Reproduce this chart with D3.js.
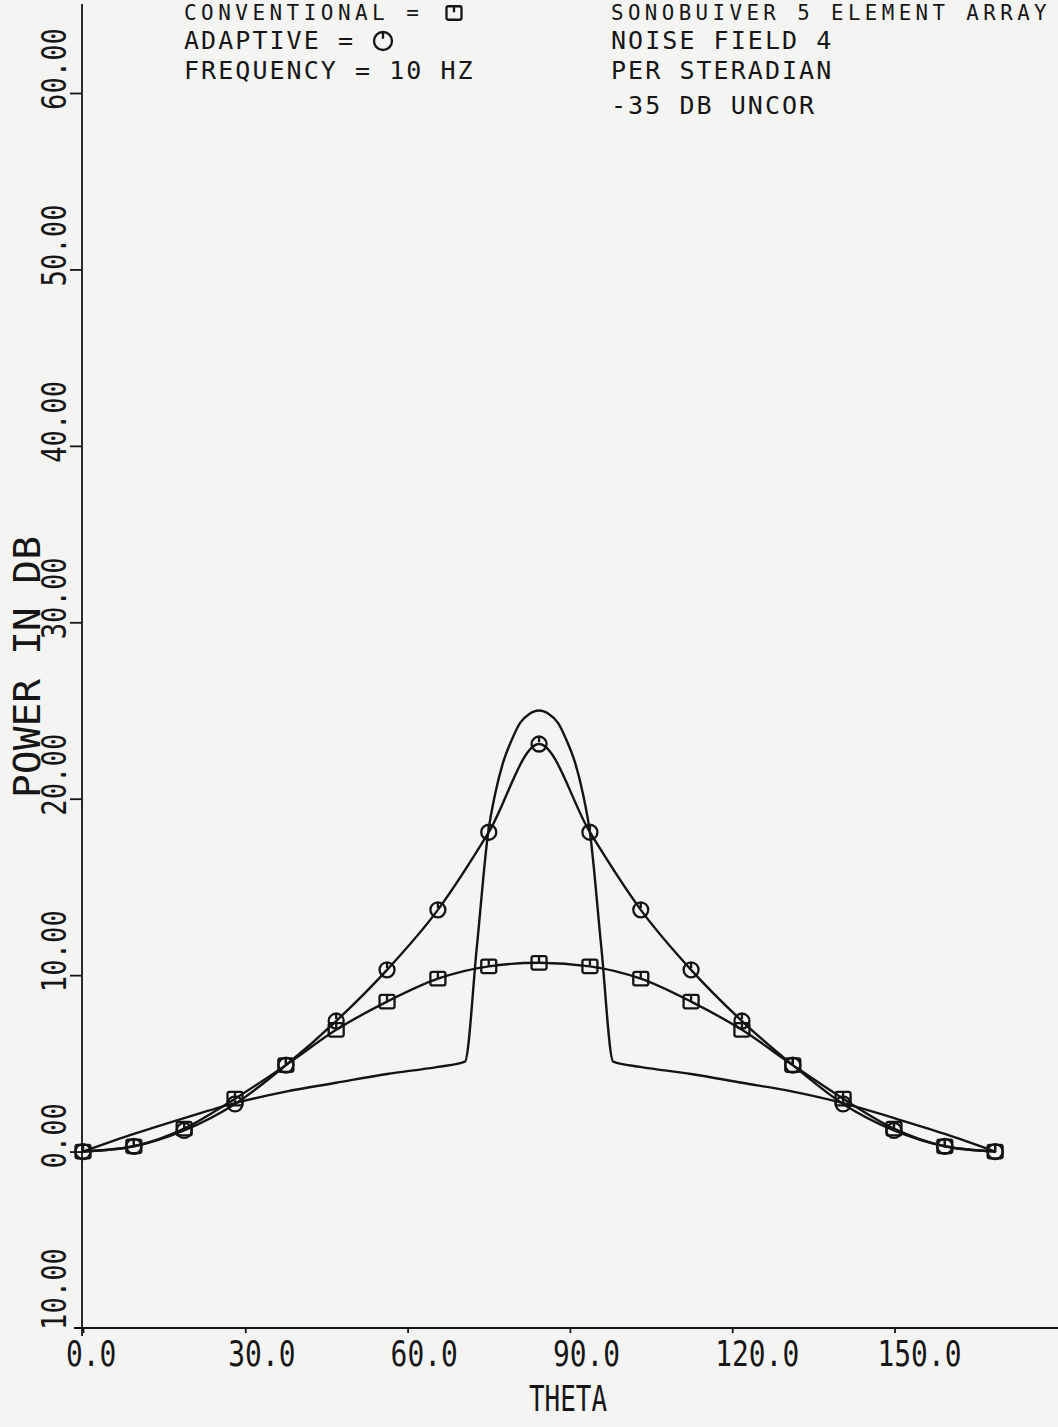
<!DOCTYPE html>
<html><head><meta charset="utf-8">
<script src="https://cdn.jsdelivr.net/npm/d3@7"></script>
<style>
html,body{margin:0;padding:0;background:#f4f4f2;}
svg{display:block}
text{font-family:"DejaVu Sans Mono",monospace;fill:#161616;}
</style></head><body>
<svg id="c" width="1058" height="1427"></svg>
<script>
// ---- data ----
const thetaPts = [0, 9.4, 18.7, 28.1, 37.5, 46.8, 56.2, 65.6, 75.0, 84.3, 93.7, 103.1, 112.4, 121.8, 131.2, 140.5, 149.9, 159.3, 168.6];
const conventional = [0, 0.3, 1.3, 3.0, 4.9, 6.9, 8.5, 9.8, 10.5, 10.7, 10.5, 9.8, 8.5, 6.9, 4.9, 3.0, 1.3, 0.3, 0];
const adaptive = [0, 0.3, 1.2, 2.7, 4.9, 7.4, 10.3, 13.7, 18.1, 23.1, 18.1, 13.7, 10.3, 7.4, 4.9, 2.7, 1.2, 0.3, 0];
const optimumTheta = [0, 9.4, 18.7, 28.1, 37.5, 46.8, 56.2, 65.6, 70.6, 72.8, 74.9, 76.2, 77.6, 79.2, 80.8, 82.5, 84.3, 86.1, 87.8, 89.4, 91.0, 92.4, 93.7, 95.8, 98.0, 103.0, 112.4, 121.8, 131.2, 140.5, 149.9, 159.3, 168.6];
const optimumValues = [0, 1.0, 1.9, 2.75, 3.4, 3.9, 4.4, 4.8, 5.1, 11.6, 18.1, 20.3, 22.0, 23.3, 24.3, 24.8, 25.0, 24.8, 24.3, 23.3, 22.0, 20.3, 18.1, 11.6, 5.1, 4.8, 4.4, 3.9, 3.4, 2.75, 1.9, 1.0, 0];
const xTicks = [0, 30, 60, 90, 120, 150];
const xTickLabels = ["0.0", "30.0", "60.0", "90.0", "120.0", "150.0"];
const yTicks = [-10, 0, 10, 20, 30, 40, 50, 60];
const yTickLabels = ["10.00", "0.00", "10.00", "20.00", "30.00", "40.00", "50.00", "60.00"];
const legendLeft = ["CONVENTIONAL = ", "ADAPTIVE = ", "FREQUENCY = 10 HZ"];
const legendRight = ["SONOBUIVER 5 ELEMENT ARRAY", "NOISE FIELD 4", "PER STERADIAN", "-35 DB UNCOR"];
const xTitle = "THETA";
const yTitle = "POWER IN DB";

// ---- drawing ----
const ink = "#141414";
const svg = d3.select("#c");
const x = d3.scaleLinear().domain([0, 180]).range([83, 1056.8]);
const y = d3.scaleLinear().domain([-10, 60]).range([1328, 93]);

// axes
const axX = svg.append("g").attr("transform", `translate(0,${y(-10)})`)
  .call(d3.axisBottom(x).tickValues(xTicks).tickSize(5).tickSizeOuter(0).tickFormat(""));
axX.select(".domain").attr("d", `M74,0H1058`);
const axY = svg.append("g").attr("transform", `translate(${x(0) - 1},0)`)
  .call(d3.axisLeft(y).tickValues(yTicks.filter(v => v > -10)).tickSize(12).tickSizeOuter(0).tickFormat(""));
axY.select(".domain").attr("d", `M0,4V1336`);
svg.selectAll(".domain, .tick line").attr("stroke", ink).attr("stroke-width", 1.8);

// tick labels
const charX = 16.8;
svg.append("g").selectAll("text").data(xTicks).join("text")
  .attr("x", d => x(d) - 17).attr("y", 1366)
  .attr("font-size", 35)
  .attr("textLength", (d, i) => xTickLabels[i].length * charX)
  .attr("lengthAdjust", "spacingAndGlyphs")
  .text((d, i) => xTickLabels[i]);

svg.append("g").selectAll("text").data(yTicks).join("text")
  .attr("transform", d => `translate(66,${y(d) + (d === -10 ? 2 : 17)}) rotate(-90)`)
  .attr("font-size", 33)
  .attr("textLength", (d, i) => yTickLabels[i].length * 16.4)
  .attr("lengthAdjust", "spacingAndGlyphs")
  .text((d, i) => yTickLabels[i]);

// axis titles
svg.append("text").attr("x", 568).attr("y", 1411).attr("text-anchor", "middle")
  .attr("font-size", 36).attr("textLength", 78).attr("lengthAdjust", "spacingAndGlyphs").text(xTitle);
svg.append("text").attr("transform", "translate(40,667) rotate(-90)").attr("text-anchor", "middle")
  .attr("font-size", 37).attr("textLength", 262).attr("lengthAdjust", "spacingAndGlyphs").text(yTitle);

// legend text (top line slightly smaller so it stays on the page)
const baseY = [20, 49, 79, 114];
const fs = [21, 25, 25, 25];
const legG = svg.append("g");
legG.selectAll("text.l").data(legendLeft).join("text").attr("class", "l")
  .attr("x", 184).attr("y", (d, i) => baseY[i])
  .attr("font-size", (d, i) => fs[i])
  .attr("letter-spacing", (d, i) => 17.1 - 0.602 * fs[i])
  .text(d => d);
legG.selectAll("text.r").data(legendRight).join("text").attr("class", "r")
  .attr("x", 611).attr("y", (d, i) => baseY[i])
  .attr("font-size", (d, i) => fs[i])
  .attr("letter-spacing", (d, i) => 17.1 - 0.602 * fs[i])
  .attr("textLength", (d, i) => i === 0 ? 440 : null)
  .attr("lengthAdjust", "spacingAndGlyphs")
  .text(d => d);

// curves
const line = d3.line().curve(d3.curveMonotoneX).x(d => x(d[0])).y(d => y(d[1]));
const g = svg.append("g").attr("fill", "none").attr("stroke", ink).attr("stroke-width", 2.4)
  .attr("stroke-linejoin", "round").attr("stroke-linecap", "round");
g.append("path").attr("d", line(optimumTheta.map((t, i) => [t, optimumValues[i]])));
g.append("path").attr("d", line(thetaPts.map((t, i) => [t, adaptive[i]])));
g.append("path").attr("d", line(thetaPts.map((t, i) => [t, conventional[i]])));

// markers
function squareMark(sel, cx, cy, s) {
  sel.append("rect").attr("x", cx - s / 2).attr("y", cy - s * 0.45).attr("width", s).attr("height", s * 0.9).attr("rx", 2);
  sel.append("path").attr("d", `M${cx},${cy - s * 0.45}V${cy - s * 0.05}`);
}
function circleMark(sel, cx, cy, r) {
  sel.append("circle").attr("cx", cx).attr("cy", cy).attr("r", r);
  sel.append("path").attr("d", `M${cx},${cy - r}V${cy - r * 0.25}`);
}
const mk = svg.append("g").attr("fill", "none").attr("stroke", ink).attr("stroke-width", 2.3);
thetaPts.forEach((t, i) => squareMark(mk, x(t), y(conventional[i]), 15));
thetaPts.forEach((t, i) => circleMark(mk, x(t), y(adaptive[i]), 7.5));

// legend symbols
squareMark(mk, 454, 13, 15);
circleMark(mk, 383, 41, 9);
</script>
</body></html>
